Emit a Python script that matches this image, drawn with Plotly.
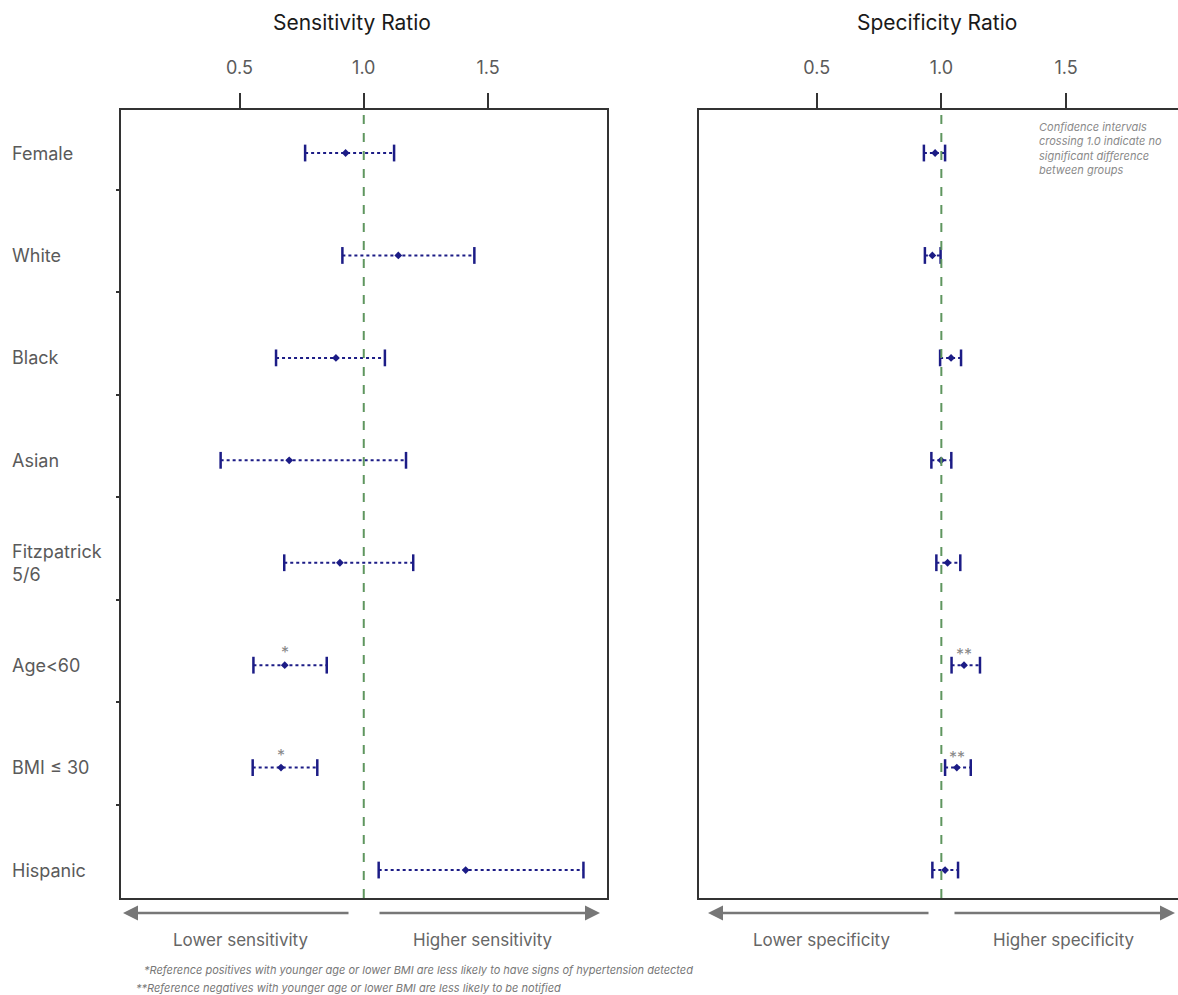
import plotly.graph_objects as go

W, H = 1178, 995

categories = ["Female", "White", "Black", "Asian", "Fitzpatrick<br>5/6", "Age<60", "BMI ≤ 30", "Hispanic"]

sens_est = [0.927, 1.139, 0.888, 0.700, 0.904, 0.682, 0.667, 1.410]
sens_lo = [0.764, 0.914, 0.647, 0.424, 0.680, 0.556, 0.553, 1.060]
sens_hi = [1.122, 1.445, 1.085, 1.170, 1.199, 0.851, 0.813, 1.884]
sens_sig = ["", "", "", "", "", "*", "*", ""]

spec_est = [0.975, 0.964, 1.039, 0.999, 1.025, 1.091, 1.062, 1.015]
spec_lo = [0.930, 0.934, 0.995, 0.960, 0.980, 1.041, 1.015, 0.964]
spec_hi = [1.015, 0.997, 1.079, 1.040, 1.076, 1.155, 1.118, 1.067]
spec_sig = ["", "", "", "", "", "**", "**", ""]

tick_vals = [0.5, 1.0, 1.5]
tick_text = ["0.5", "1.0", "1.5"]

NAVY = "#1c1c86"
GREEN = "#5f965f"
FRAME = "#333333"
GREY = "#5a5a5a"
FONT = "Inter, Roboto, Liberation Sans, sans-serif"

def px(x):
    return x / W

def py(y):
    return 1 - y / H

fig = go.Figure()

rows = list(range(len(categories)))

def add_panel(est, lo, hi, xa, ya):
    for i in rows:
        fig.add_trace(go.Scatter(
            x=[lo[i], hi[i]], y=[i, i], mode="lines+markers",
            line=dict(color=NAVY, width=2, dash="dot"),
            marker=dict(symbol="line-ns", size=12, line=dict(color=NAVY, width=2.5)),
            xaxis=xa, yaxis=ya, showlegend=False, hoverinfo="skip"))
    fig.add_trace(go.Scatter(
        x=est, y=rows, mode="markers",
        marker=dict(symbol="diamond", size=6, color=NAVY),
        xaxis=xa, yaxis=ya, showlegend=False))

add_panel(sens_est, sens_lo, sens_hi, "x", "y")
add_panel(spec_est, spec_lo, spec_hi, "x2", "y2")

yr = [7.273, -0.42]
axis_common = dict(
    side="top", tickvals=tick_vals, ticktext=tick_text, ticks="outside",
    ticklen=15, tickwidth=2, tickcolor=FRAME, showline=True, linecolor=FRAME,
    linewidth=2, showgrid=False, zeroline=False, ticklabelstandoff=12,
    tickfont=dict(family=FONT, size=18, color=GREY),
)
fig.update_layout(
    width=W, height=H, margin=dict(l=0, r=0, t=0, b=0),
    paper_bgcolor="white", plot_bgcolor="white",
    xaxis=dict(domain=[px(121), px(607)], range=[0.0231, 1.9788], mirror=True, anchor="y", **axis_common),
    xaxis2=dict(domain=[px(699), 1.0], range=[0.0279, 1.9493], mirror=True, anchor="y2", **axis_common),
    yaxis=dict(domain=[py(898), py(110)], range=yr, showline=True, mirror=True,
               linecolor=FRAME, linewidth=2, showgrid=False, zeroline=False,
               showticklabels=False, ticks="",
               minor=dict(tickvals=[i + 0.361 for i in range(7)], ticks="outside",
                          ticklen=3, tickcolor=FRAME, tickwidth=1.5, showgrid=False)),
    yaxis2=dict(domain=[py(898), py(110)], range=yr, showline=True, mirror=False,
                linecolor=FRAME, linewidth=2, showgrid=False, zeroline=False,
                showticklabels=False, ticks="", anchor="x2"),
)

# reference lines at 1.0
for xr, yref in (("x", "y domain"), ("x2", "y2 domain")):
    fig.add_shape(type="line", x0=1.0, x1=1.0, y0=0, y1=1, xref=xr, yref=yref,
                  line=dict(color=GREEN, width=2, dash="dash"), layer="above")

# category labels
for i, c in enumerate(categories):
    fig.add_annotation(x=px(10), y=i, xref="paper", yref="y", text=c, showarrow=False,
                       xanchor="left", yanchor="middle", align="left",
                       font=dict(family=FONT, size=18, color=GREY))

# significance marks
for i in rows:
    if sens_sig[i]:
        fig.add_annotation(x=sens_est[i], y=i, xref="x", yref="y", text=sens_sig[i],
                           showarrow=False, yshift=13, xanchor="center", yanchor="middle",
                           font=dict(family=FONT, size=16, color="#888888"))
    if spec_sig[i]:
        fig.add_annotation(x=spec_est[i], y=i, xref="x2", yref="y2", text=spec_sig[i],
                           showarrow=False, yshift=11, xanchor="center", yanchor="middle",
                           font=dict(family=FONT, size=16, color="#888888"))

# titles
for xc, t in ((352, "Sensitivity Ratio"), (937, "Specificity Ratio")):
    fig.add_annotation(x=px(xc), y=py(22), xref="paper", yref="paper", text=t,
                       showarrow=False, xanchor="center", yanchor="middle",
                       font=dict(family=FONT, size=21, color="#1a1a1a"))

# note
fig.add_annotation(x=px(1037), y=py(118), xref="paper", yref="paper",
                   text="<i>Confidence intervals<br>crossing 1.0 indicate no<br>significant difference<br>between groups</i>",
                   showarrow=False, xanchor="left", yanchor="top", align="left",
                   font=dict(family=FONT, size=11, color="#8a8a8a"))

# direction arrows
ARROW = "#777777"
arrows = [(350, 123), (378, 600), (930, 708), (953, 1175)]
for tail, head in arrows:
    fig.add_annotation(x=px(head), y=py(913), ax=tail - head, ay=0, xref="paper", yref="paper",
                       axref="pixel", ayref="pixel", text="", showarrow=True,
                       arrowhead=2, arrowsize=1.2, arrowwidth=2.5, arrowcolor=ARROW)

dir_labels = [(240, "Lower sensitivity"), (483, "Higher sensitivity"),
              (821, "Lower specificity"), (1064, "Higher specificity")]
for xc, t in dir_labels:
    fig.add_annotation(x=px(xc), y=py(940), xref="paper", yref="paper", text=t, showarrow=False,
                       xanchor="center", yanchor="middle",
                       font=dict(family=FONT, size=17, color="#666666"))

# footnotes
fig.add_annotation(x=px(142), y=py(970), xref="paper", yref="paper", xanchor="left", yanchor="middle",
                   text="<i>*Reference positives with younger age or lower BMI are less likely to have signs of hypertension detected</i>",
                   showarrow=False, font=dict(family=FONT, size=11, color="#777777"))
fig.add_annotation(x=px(134), y=py(988), xref="paper", yref="paper", xanchor="left", yanchor="middle",
                   text="<i>**Reference negatives with younger age or lower BMI are less likely to be notified</i>",
                   showarrow=False, font=dict(family=FONT, size=11, color="#777777"))

fig.write_html("out.html", config={"displayModeBar": False},
               post_script="document.body.style.margin='0';document.body.style.overflow='hidden';")
